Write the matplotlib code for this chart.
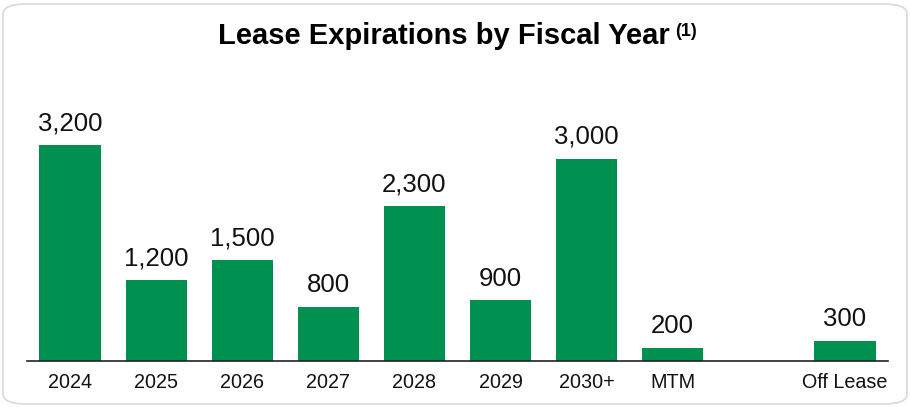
import matplotlib
matplotlib.use("Agg")
import matplotlib.pyplot as plt
from matplotlib.patches import FancyBboxPatch

plt.rcParams['font.family'] = ['Liberation Sans', 'DejaVu Sans']

categories = ["2024", "2025", "2026", "2027", "2028", "2029", "2030+", "MTM", "", "Off Lease"]
values = [3200, 1200, 1500, 800, 2300, 900, 3000, 200, None, 300]
labels = ["3,200", "1,200", "1,500", "800", "2,300", "900", "3,000", "200", "", "300"]

W, H = 911, 407
fig = plt.figure(figsize=(W / 100, H / 100), dpi=100)

# rounded border
border = FancyBboxPatch((3 / W, 3 / H), (W - 7) / W, (H - 7) / H,
                        boxstyle="round,pad=0,rounding_size=0.025",
                        transform=fig.transFigure, facecolor="none",
                        edgecolor="#d9d9d9", linewidth=1.2, zorder=-10)
fig.patches.append(border)

left, right = 27 / W, 888 / W
bottom, top = 1 - 361 / H, 1 - 100 / H
ax = fig.add_axes([left, bottom, right - left, top - bottom])
ax.set_facecolor("none")

xs = [i for i, v in enumerate(values) if v is not None]
vs = [v for v in values if v is not None]
ax.bar(xs, vs, width=0.71, color="#009150", zorder=2)
for x, v in zip(xs, vs):
    ax.annotate(labels[x], (x, v), xytext=(0, 7), textcoords="offset points",
                ha="center", va="bottom", fontsize=18.5, color="#111111")

ax.set_xlim(-0.5, 9.5)
ax.set_ylim(0, 261 / 216 * 3200)
ax.set_xticks(range(len(categories)))
ax.set_xticklabels(categories, fontsize=14.2, color="#111111")
ax.tick_params(axis="x", length=0, pad=9)
ax.set_yticks([])
for s in ["top", "left", "right"]:
    ax.spines[s].set_visible(False)
ax.spines["bottom"].set_linewidth(1.2)
ax.spines["bottom"].set_color("#222222")

fig.text(218 / W, 1 - 44 / H, "Lease Expirations by Fiscal Year", ha="left",
         va="baseline", fontsize=21, fontweight="bold", color="#000000")
fig.text(675 / W, 1 - 36 / H, "(1)", ha="left", va="baseline",
         fontsize=13, fontweight="bold", color="#000000")

fig.savefig("out.png", dpi=100)
